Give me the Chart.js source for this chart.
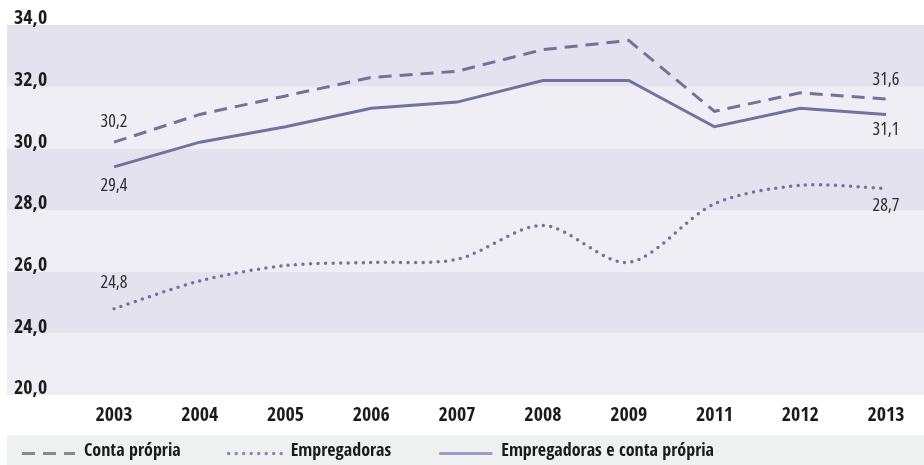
<!DOCTYPE html>
<html>
<head>
<meta charset="utf-8">
<script src="https://cdn.jsdelivr.net/npm/chart.js@4.4.1/dist/chart.umd.min.js"></script>
<style>
  html, body { margin: 0; padding: 0; background: #fff; }
  canvas { display: block; }
</style>
</head>
<body>
<canvas id="chart" width="924" height="465"></canvas>
<script>
// dados
const years = ['2003', '2004', '2005', '2006', '2007', '2008', '2009', '2011', '2012', '2013'];
const contaPropria = [30.2, 31.1, 31.7, 32.3, 32.5, 33.2, 33.5, 31.2, 31.8, 31.6];
const empregadoras = [24.8, 25.7, 26.2, 26.3, 26.4, 27.5, 26.3, 28.2, 28.8, 28.7];
const empregadorasEConta = [29.4, 30.2, 30.7, 31.3, 31.5, 32.2, 32.2, 30.7, 31.3, 31.1];

// eixo com quebra: o ultimo degrau (22) aparece como 20,0
const yTickValues = [22, 24, 26, 28, 30, 32, 34];
const yTickLabels = ['20,0', '24,0', '26,0', '28,0', '30,0', '32,0', '34,0'];

const FONT = "'Open Sans Condensed', 'Roboto Condensed', sans-serif";
const LINE = '#73719e';
const TEXT = '#1b1b1b';

const fmt = v => v.toFixed(1).replace('.', ',');

// faixas alternadas do fundo
const bandsPlugin = {
    id: 'bands',
    beforeDraw(chart) {
        const { ctx, scales: { y } } = chart;
        ctx.save();
        for (let i = 0; i < yTickValues.length - 1; i++) {
            const top = y.getPixelForValue(yTickValues[i + 1]);
            const bottom = y.getPixelForValue(yTickValues[i]);
            ctx.fillStyle = (yTickValues.length - 2 - i) % 2 === 0 ? '#e4e2ee' : '#efeef5';
            ctx.fillRect(7, top, chart.width - 7, bottom - top);
        }
        ctx.restore();
    }
};

// rotulos de valor no primeiro e ultimo ano
const valueLabelsPlugin = {
    id: 'valueLabels',
    afterDatasetsDraw(chart) {
        const { ctx } = chart;
        ctx.save();
        ctx.font = "condensed 18px 'Open Sans', 'Roboto Condensed', sans-serif";
        ctx.fillStyle = '#2e2e2e';
        ctx.textAlign = 'center';
        ctx.textBaseline = 'middle';
        chart.data.datasets.forEach((ds, i) => {
            const meta = chart.getDatasetMeta(i);
            const last = ds.data.length - 1;
            [[0, ds.labelOffset[0]], [last, ds.labelOffset[1]]].forEach(([idx, dy]) => {
                const pt = meta.data[idx];
                ctx.fillText(fmt(ds.data[idx]), pt.x, pt.y + dy);
            });
        });
        ctx.restore();
    }
};

// legenda na faixa cinza de baixo
const legendPlugin = {
    id: 'bottomLegend',
    afterDraw(chart) {
        const { ctx } = chart;
        ctx.save();
        ctx.fillStyle = '#eff0f0';
        ctx.fillRect(7, 435, chart.width - 7, 30);
        ctx.font = '800 18px ' + FONT;
        ctx.textBaseline = 'middle';
        let x = 22;
        chart.data.datasets.forEach(ds => {
            ctx.strokeStyle = ds.legendColor || ds.borderColor;
            ctx.lineWidth = ds.borderWidth;
            ctx.lineCap = ds.borderCapStyle || 'butt';
            ctx.setLineDash(ds.borderDash || []);
            ctx.beginPath();
            ctx.moveTo(x, 453.5);
            ctx.lineTo(x + 53, 453.5);
            ctx.stroke();
            ctx.setLineDash([]);
            ctx.fillStyle = TEXT;
            ctx.fillText(ds.label, x + 62, 451);
            x += 62 + ctx.measureText(ds.label).width + 48;
        });
        ctx.restore();
    }
};

new Chart(document.getElementById('chart'), {
    type: 'line',
    data: {
        labels: years,
        datasets: [
            {
                label: 'Conta própria',
                data: contaPropria,
                borderColor: LINE,
                legendColor: '#8a8a8f',
                borderWidth: 3,
                borderDash: [13, 8],
                tension: 0,
                labelOffset: [-20, -19]
            },
            {
                label: 'Empregadoras',
                data: empregadoras,
                borderColor: LINE,
                legendColor: '#8a88b4',
                borderWidth: 3.5,
                borderDash: [0, 7.5],
                borderCapStyle: 'round',
                tension: 0.3,
                labelOffset: [-26, 17]
            },
            {
                label: 'Empregadoras e conta própria',
                data: empregadorasEConta,
                borderColor: LINE,
                legendColor: '#9c9bcb',
                borderWidth: 3,
                tension: 0,
                labelOffset: [19, 15]
            }
        ]
    },
    options: {
        responsive: false,
        animation: false,
        devicePixelRatio: 1,
        layout: { padding: { top: 25, right: 38, bottom: 30, left: 14 } },
        elements: { point: { radius: 0, hoverRadius: 0 } },
        plugins: {
            legend: { display: false },
            tooltip: { enabled: false }
        },
        scales: {
            x: {
                offset: false,
                grid: { display: false, drawTicks: false },
                border: { display: false },
                ticks: {
                    color: TEXT,
                    font: { family: FONT, size: 20, weight: '800' },
                    padding: 9,
                    maxRotation: 0,
                    autoSkip: false
                },
                afterFit(scale) { scale.height = 40; }
            },
            y: {
                min: 22,
                max: 34,
                grid: { display: false, drawTicks: false },
                border: { display: false },
                afterBuildTicks(scale) {
                    scale.ticks = yTickValues.map(v => ({ value: v }));
                },
                ticks: {
                    color: TEXT,
                    font: { family: FONT, size: 20, weight: '800' },
                    padding: 0,
                    labelOffset: -6,
                    crossAlign: 'far',
                    callback: (value) => yTickLabels[yTickValues.indexOf(value)]
                },
                afterFit(scale) { scale.width = 100; }
            }
        }
    },
    plugins: [bandsPlugin, valueLabelsPlugin, legendPlugin]
});
</script>
</body>
</html>
